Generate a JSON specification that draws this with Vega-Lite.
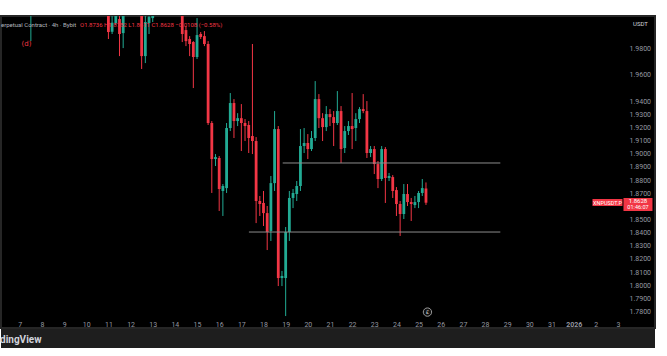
{
  "$schema": "https://vega.github.io/schema/vega-lite/v6.json",
  "background": "#ffffff",
  "padding": {"top": 15, "left": 0, "right": 13, "bottom": 10},
  "autosize": {"type": "pad"},
  "spacing": 0,
  "title": {
    "text": "erpetual Contract · 4h · Bybit",
    "subtitle": "\u2800\u2800\u2800\u2800(d)",
    "anchor": "start", "orient": "top", "offset": -32, "dx": 1,
    "font": "Roboto", "fontSize": 6, "fontWeight": "normal", "color": "#b2b5be",
    "subtitleFont": "DejaVu Sans", "subtitleFontSize": 7, "subtitleColor": "#f23645", "subtitlePadding": 12
  },
  "datasets": {
    "candles": [
      {"t":"2025-12-07T12:00:00Z","o":2.0124,"h":2.0314,"l":1.9857,"c":2.0238},
      {"t":"2025-12-11T00:00:00Z","o":2.0086,"h":2.0124,"l":1.9873,"c":1.9926},
      {"t":"2025-12-11T04:00:00Z","o":1.9928,"h":2.0070,"l":1.9911,"c":1.9997},
      {"t":"2025-12-11T08:00:00Z","o":1.9994,"h":2.0146,"l":1.9979,"c":2.0070},
      {"t":"2025-12-11T12:00:00Z","o":2.0025,"h":2.0086,"l":1.9743,"c":1.9911},
      {"t":"2025-12-11T16:00:00Z","o":1.9918,"h":2.0162,"l":1.9804,"c":2.0086},
      {"t":"2025-12-11T20:00:00Z","o":2.0100,"h":2.0220,"l":2.0090,"c":2.0180},
      {"t":"2025-12-12T00:00:00Z","o":2.0180,"h":2.0300,"l":2.0150,"c":2.0250},
      {"t":"2025-12-12T04:00:00Z","o":2.0250,"h":2.0320,"l":2.0160,"c":2.0200},
      {"t":"2025-12-12T08:00:00Z","o":2.0200,"h":2.0260,"l":2.0090,"c":2.0120},
      {"t":"2025-12-12T12:00:00Z","o":2.0070,"h":2.0124,"l":1.9645,"c":1.9743},
      {"t":"2025-12-12T16:00:00Z","o":1.9743,"h":2.0055,"l":1.9690,"c":2.0002},
      {"t":"2025-12-12T20:00:00Z","o":1.9994,"h":2.0101,"l":1.9911,"c":2.0040},
      {"t":"2025-12-13T00:00:00Z","o":2.0032,"h":2.0130,"l":2.0002,"c":2.0100},
      {"t":"2025-12-13T04:00:00Z","o":2.0100,"h":2.0220,"l":2.0080,"c":2.0160},
      {"t":"2025-12-13T08:00:00Z","o":2.0160,"h":2.0280,"l":2.0130,"c":2.0230},
      {"t":"2025-12-13T12:00:00Z","o":2.0230,"h":2.0300,"l":2.0150,"c":2.0190},
      {"t":"2025-12-13T16:00:00Z","o":2.0190,"h":2.0310,"l":2.0170,"c":2.0260},
      {"t":"2025-12-13T20:00:00Z","o":2.0260,"h":2.0290,"l":2.0160,"c":2.0210},
      {"t":"2025-12-14T00:00:00Z","o":2.0210,"h":2.0250,"l":2.0100,"c":2.0150},
      {"t":"2025-12-14T04:00:00Z","o":2.0150,"h":2.0200,"l":2.0070,"c":2.0090},
      {"t":"2025-12-14T08:00:00Z","o":2.0055,"h":2.0101,"l":1.9850,"c":1.9911},
      {"t":"2025-12-14T12:00:00Z","o":1.9941,"h":1.9971,"l":1.9819,"c":1.9857},
      {"t":"2025-12-14T16:00:00Z","o":1.9873,"h":1.9895,"l":1.9743,"c":1.9835},
      {"t":"2025-12-14T20:00:00Z","o":1.9850,"h":1.9857,"l":1.9500,"c":1.9736},
      {"t":"2025-12-15T00:00:00Z","o":1.9736,"h":2.0032,"l":1.9721,"c":1.9903},
      {"t":"2025-12-15T04:00:00Z","o":1.9911,"h":1.9926,"l":1.9873,"c":1.9888},
      {"t":"2025-12-15T08:00:00Z","o":1.9895,"h":1.9933,"l":1.9819,"c":1.9835},
      {"t":"2025-12-15T12:00:00Z","o":1.9835,"h":1.9857,"l":1.9219,"c":1.9234},
      {"t":"2025-12-15T16:00:00Z","o":1.9234,"h":1.9249,"l":1.8702,"c":1.8960},
      {"t":"2025-12-15T20:00:00Z","o":1.8960,"h":1.8998,"l":1.8907,"c":1.8975},
      {"t":"2025-12-16T00:00:00Z","o":1.8968,"h":1.8983,"l":1.8565,"c":1.8732},
      {"t":"2025-12-16T04:00:00Z","o":1.8717,"h":1.8770,"l":1.8527,"c":1.8755},
      {"t":"2025-12-16T08:00:00Z","o":1.8739,"h":1.9234,"l":1.8702,"c":1.9196},
      {"t":"2025-12-16T12:00:00Z","o":1.9196,"h":1.9462,"l":1.9173,"c":1.9386},
      {"t":"2025-12-16T16:00:00Z","o":1.9386,"h":1.9416,"l":1.9120,"c":1.9249},
      {"t":"2025-12-16T20:00:00Z","o":1.9249,"h":1.9309,"l":1.9211,"c":1.9271},
      {"t":"2025-12-17T00:00:00Z","o":1.9271,"h":1.9378,"l":1.9021,"c":1.9234},
      {"t":"2025-12-17T04:00:00Z","o":1.9234,"h":1.9264,"l":1.9097,"c":1.9211},
      {"t":"2025-12-17T08:00:00Z","o":1.9219,"h":1.9249,"l":1.9006,"c":1.9120},
      {"t":"2025-12-17T12:00:00Z","o":1.9135,"h":1.9835,"l":1.8998,"c":1.9097},
      {"t":"2025-12-17T16:00:00Z","o":1.9097,"h":1.9127,"l":1.8473,"c":1.8641},
      {"t":"2025-12-17T20:00:00Z","o":1.8641,"h":1.8679,"l":1.8527,"c":1.8618},
      {"t":"2025-12-18T00:00:00Z","o":1.8626,"h":1.8717,"l":1.8451,"c":1.8549},
      {"t":"2025-12-18T04:00:00Z","o":1.8549,"h":1.8603,"l":1.8268,"c":1.8405},
      {"t":"2025-12-18T08:00:00Z","o":1.8413,"h":1.8831,"l":1.8337,"c":1.8777},
      {"t":"2025-12-18T12:00:00Z","o":1.8777,"h":1.9325,"l":1.8717,"c":1.9188},
      {"t":"2025-12-18T16:00:00Z","o":1.9188,"h":1.9211,"l":1.7994,"c":1.8055},
      {"t":"2025-12-18T20:00:00Z","o":1.8055,"h":1.8109,"l":1.7994,"c":1.8071},
      {"t":"2025-12-19T00:00:00Z","o":1.8055,"h":1.8443,"l":1.7766,"c":1.8405},
      {"t":"2025-12-19T04:00:00Z","o":1.8405,"h":1.8717,"l":1.8337,"c":1.8664},
      {"t":"2025-12-19T08:00:00Z","o":1.8664,"h":1.8732,"l":1.8587,"c":1.8702},
      {"t":"2025-12-19T12:00:00Z","o":1.8694,"h":1.8793,"l":1.8641,"c":1.8755},
      {"t":"2025-12-19T16:00:00Z","o":1.8755,"h":1.9188,"l":1.8717,"c":1.9059},
      {"t":"2025-12-19T20:00:00Z","o":1.9059,"h":1.9196,"l":1.9006,"c":1.9082},
      {"t":"2025-12-20T00:00:00Z","o":1.9082,"h":1.9150,"l":1.8960,"c":1.9036},
      {"t":"2025-12-20T04:00:00Z","o":1.9036,"h":1.9173,"l":1.9021,"c":1.9120},
      {"t":"2025-12-20T08:00:00Z","o":1.9120,"h":1.9553,"l":1.9097,"c":1.9416},
      {"t":"2025-12-20T12:00:00Z","o":1.9416,"h":1.9454,"l":1.9196,"c":1.9271},
      {"t":"2025-12-20T16:00:00Z","o":1.9271,"h":1.9309,"l":1.9097,"c":1.9203},
      {"t":"2025-12-20T20:00:00Z","o":1.9203,"h":1.9363,"l":1.9173,"c":1.9302},
      {"t":"2025-12-21T00:00:00Z","o":1.9302,"h":1.9340,"l":1.9211,"c":1.9279},
      {"t":"2025-12-21T04:00:00Z","o":1.9279,"h":1.9325,"l":1.9059,"c":1.9234},
      {"t":"2025-12-21T08:00:00Z","o":1.9234,"h":1.9477,"l":1.9219,"c":1.9325},
      {"t":"2025-12-21T12:00:00Z","o":1.9325,"h":1.9363,"l":1.8930,"c":1.9036},
      {"t":"2025-12-21T16:00:00Z","o":1.9044,"h":1.9211,"l":1.9006,"c":1.9173},
      {"t":"2025-12-21T20:00:00Z","o":1.9173,"h":1.9249,"l":1.9143,"c":1.9211},
      {"t":"2025-12-22T00:00:00Z","o":1.9211,"h":1.9462,"l":1.9036,"c":1.9188},
      {"t":"2025-12-22T04:00:00Z","o":1.9196,"h":1.9309,"l":1.9097,"c":1.9264},
      {"t":"2025-12-22T08:00:00Z","o":1.9264,"h":1.9355,"l":1.9234,"c":1.9340},
      {"t":"2025-12-22T12:00:00Z","o":1.9340,"h":1.9454,"l":1.9309,"c":1.9325},
      {"t":"2025-12-22T16:00:00Z","o":1.9325,"h":1.9401,"l":1.8968,"c":1.9006},
      {"t":"2025-12-22T20:00:00Z","o":1.9006,"h":1.9059,"l":1.8975,"c":1.9036},
      {"t":"2025-12-23T00:00:00Z","o":1.9036,"h":1.9059,"l":1.8846,"c":1.8922},
      {"t":"2025-12-23T04:00:00Z","o":1.8922,"h":1.8945,"l":1.8739,"c":1.8808},
      {"t":"2025-12-23T08:00:00Z","o":1.8808,"h":1.9059,"l":1.8793,"c":1.9036},
      {"t":"2025-12-23T12:00:00Z","o":1.9036,"h":1.9051,"l":1.8626,"c":1.8816},
      {"t":"2025-12-23T16:00:00Z","o":1.8816,"h":1.8854,"l":1.8793,"c":1.8831},
      {"t":"2025-12-23T20:00:00Z","o":1.8823,"h":1.8838,"l":1.8664,"c":1.8717},
      {"t":"2025-12-24T00:00:00Z","o":1.8724,"h":1.8747,"l":1.8527,"c":1.8618},
      {"t":"2025-12-24T04:00:00Z","o":1.8618,"h":1.8641,"l":1.8375,"c":1.8542},
      {"t":"2025-12-24T08:00:00Z","o":1.8542,"h":1.8770,"l":1.8504,"c":1.8694},
      {"t":"2025-12-24T12:00:00Z","o":1.8694,"h":1.8770,"l":1.8603,"c":1.8633},
      {"t":"2025-12-24T16:00:00Z","o":1.8633,"h":1.8664,"l":1.8489,"c":1.8618},
      {"t":"2025-12-24T20:00:00Z","o":1.8610,"h":1.8679,"l":1.8587,"c":1.8633},
      {"t":"2025-12-25T00:00:00Z","o":1.8633,"h":1.8717,"l":1.8587,"c":1.8702},
      {"t":"2025-12-25T04:00:00Z","o":1.8702,"h":1.8808,"l":1.8679,"c":1.8739},
      {"t":"2025-12-25T08:00:00Z","o":1.8736,"h":1.8782,"l":1.8611,"c":1.8628}
    ],
    "levels": [
      {"start":"2025-12-18T20:48:00Z","end":"2025-12-28T16:32:00Z","price":1.8930},
      {"start":"2025-12-17T08:12:00Z","end":"2025-12-28T16:32:00Z","price":1.8405}
    ],
    "last": [
      {"t":"2025-12-25T08:00:00Z","price":1.8628,"sym":"XNPUSDT.P","countdown":"01:46:07"}
    ],
    "events": [
      {"t":"2025-12-25T09:36:00Z","price":1.7796,"glyph":"£"}
    ]
  },
  "vconcat": [
    {
      "width": 654,
      "height": 312,
      "view": {"fill": "#000000", "stroke": "#262626", "strokeWidth": 2},
      "title": {
        "text": "O1.8736 H1.8782 L1.8611 C1.8628 −0.0108 (−0.58%)",
        "anchor": "start", "orient": "top", "offset": -12, "dx": 79,
        "font": "Roboto", "fontSize": 6, "fontWeight": "normal", "color": "#f23645"
      },
      "encoding": {
        "x": {
          "field": "t", "type": "temporal",
          "scale": {"type": "utc", "nice": false, "domain": [
            {"year": 2025, "month": 12, "date": 6, "hours": 9, "minutes": 4, "utc": true},
            {"year": 2026, "month": 1, "date": 4, "hours": 10, "minutes": 40, "utc": true}
          ]},
          "axis": {
            "orient": "bottom", "offset": -10, "title": null,
            "domain": false, "ticks": false, "grid": false,
            "values": [
              {"year":2025,"month":12,"date":7,"utc":true},{"year":2025,"month":12,"date":8,"utc":true},
              {"year":2025,"month":12,"date":9,"utc":true},{"year":2025,"month":12,"date":10,"utc":true},
              {"year":2025,"month":12,"date":11,"utc":true},{"year":2025,"month":12,"date":12,"utc":true},
              {"year":2025,"month":12,"date":13,"utc":true},{"year":2025,"month":12,"date":14,"utc":true},
              {"year":2025,"month":12,"date":15,"utc":true},{"year":2025,"month":12,"date":16,"utc":true},
              {"year":2025,"month":12,"date":17,"utc":true},{"year":2025,"month":12,"date":18,"utc":true},
              {"year":2025,"month":12,"date":19,"utc":true},{"year":2025,"month":12,"date":20,"utc":true},
              {"year":2025,"month":12,"date":21,"utc":true},{"year":2025,"month":12,"date":22,"utc":true},
              {"year":2025,"month":12,"date":23,"utc":true},{"year":2025,"month":12,"date":24,"utc":true},
              {"year":2025,"month":12,"date":25,"utc":true},{"year":2025,"month":12,"date":26,"utc":true},
              {"year":2025,"month":12,"date":27,"utc":true},{"year":2025,"month":12,"date":28,"utc":true},
              {"year":2025,"month":12,"date":29,"utc":true},{"year":2025,"month":12,"date":30,"utc":true},
              {"year":2025,"month":12,"date":31,"utc":true},{"year":2026,"month":1,"date":1,"utc":true},
              {"year":2026,"month":1,"date":2,"utc":true},{"year":2026,"month":1,"date":3,"utc":true}
            ],
            "labelExpr": "utcmonth(datum.value) == 0 && utcdate(datum.value) == 1 ? '2026' : '' + utcdate(datum.value)",
            "labelFontWeight": {"condition": {"test": "utcmonth(datum.value) == 0 && utcdate(datum.value) == 1", "value": "bold"}, "value": "normal"},
            "labelFont": "Roboto", "labelFontSize": 7, "labelColor": "#9598a1",
            "labelPadding": 2, "labelAlign": "center", "labelBaseline": "top",
            "labelFlush": false, "labelOverlap": false
          }
        },
        "y": {
          "type": "quantitative",
          "scale": {"domain": [1.7675, 2.0048], "nice": false, "zero": false},
          "axis": {
            "orient": "right", "offset": -28,
            "domain": false, "ticks": false, "grid": false,
            "values": [1.98, 1.96, 1.94, 1.93, 1.92, 1.91, 1.90, 1.89, 1.88, 1.87, 1.85, 1.84, 1.83, 1.82, 1.81, 1.80, 1.79, 1.78],
            "format": ".4f",
            "labelFont": "Roboto", "labelFontSize": 7, "labelColor": "#9598a1",
            "labelPadding": 2, "labelOverlap": false, "labelFlush": false,
            "title": "USDT", "titleAngle": 0, "titleX": 13, "titleY": 7,
            "titleAlign": "center", "titleBaseline": "middle",
            "titleFont": "Roboto", "titleFontSize": 6, "titleFontWeight": "normal", "titleColor": "#d1d4dc"
          }
        }
      },
      "layer": [
        {
          "data": {"name": "candles"},
          "mark": {"type": "rule", "clip": true, "strokeWidth": 1},
          "encoding": {
            "y": {"field": "l"},
            "y2": {"field": "h"},
            "color": {"condition": {"test": "datum.c >= datum.o", "value": "#22ab94"}, "value": "#f23645"}
          }
        },
        {
          "data": {"name": "candles"},
          "mark": {"type": "bar", "clip": true, "size": 2.8},
          "encoding": {
            "y": {"field": "o"},
            "y2": {"field": "c"},
            "color": {"condition": {"test": "datum.c >= datum.o", "value": "#22ab94"}, "value": "#f23645"}
          }
        },
        {
          "data": {"name": "levels"},
          "mark": {"type": "rule", "color": "#8c8c8c", "strokeWidth": 1},
          "encoding": {
            "x": {"field": "start"},
            "x2": {"field": "end"},
            "y": {"field": "price"}
          }
        },
        {
          "data": {"name": "last"},
          "mark": {"type": "point", "shape": "M166.5,-3.7H196.5V3.3H166.5ZM197.5,-4.7H226.5V8.3H197.5Z", "size": 4, "filled": true, "color": "#f23645", "opacity": 1, "strokeWidth": 0},
          "encoding": {
            "y": {"field": "price"}
          }
        },
        {
          "data": {"name": "last"},
          "mark": {"type": "text", "dx": 181.5, "dy": 0, "font": "Roboto", "fontSize": 5.5, "color": "#ffffff", "align": "center", "baseline": "middle"},
          "encoding": {
            "y": {"field": "price"},
            "text": {"field": "sym"}
          }
        },
        {
          "data": {"name": "last"},
          "mark": {"type": "text", "dx": 212, "dy": -1.5, "font": "Roboto", "fontSize": 6, "color": "#ffffff", "align": "center", "baseline": "middle"},
          "encoding": {
            "y": {"field": "price"},
            "text": {"field": "price", "format": ".4f"}
          }
        },
        {
          "data": {"name": "last"},
          "mark": {"type": "text", "dx": 212, "dy": 4.5, "font": "Roboto", "fontSize": 5.5, "color": "#ffffff", "align": "center", "baseline": "middle"},
          "encoding": {
            "y": {"field": "price"},
            "text": {"field": "countdown"}
          }
        },
        {
          "data": {"name": "events"},
          "mark": {"type": "point", "shape": "circle", "size": 70, "filled": false, "fill": "#111111", "stroke": "#9a9a9a", "strokeWidth": 1, "opacity": 1},
          "encoding": {
            "y": {"field": "price"}
          }
        },
        {
          "data": {"name": "events"},
          "mark": {"type": "text", "font": "Roboto", "fontSize": 5, "color": "#d0d0d0", "align": "center", "baseline": "middle"},
          "encoding": {
            "y": {"field": "price"},
            "text": {"field": "glyph"}
          }
        }
      ]
    },
    {
      "width": 654,
      "height": 19,
      "view": {"fill": "#1e1e1e", "stroke": null},
      "title": {
        "text": "dingView", "anchor": "start", "orient": "top", "offset": -16, "dx": -1,
        "font": "Roboto", "fontSize": 10, "fontWeight": "bold", "color": "#d1d4dc"
      },
      "data": {"values": []},
      "mark": "text"
    }
  ],
  "config": {
    "font": "Roboto",
    "view": {"stroke": null},
    "axis": {"grid": false}
  }
}
